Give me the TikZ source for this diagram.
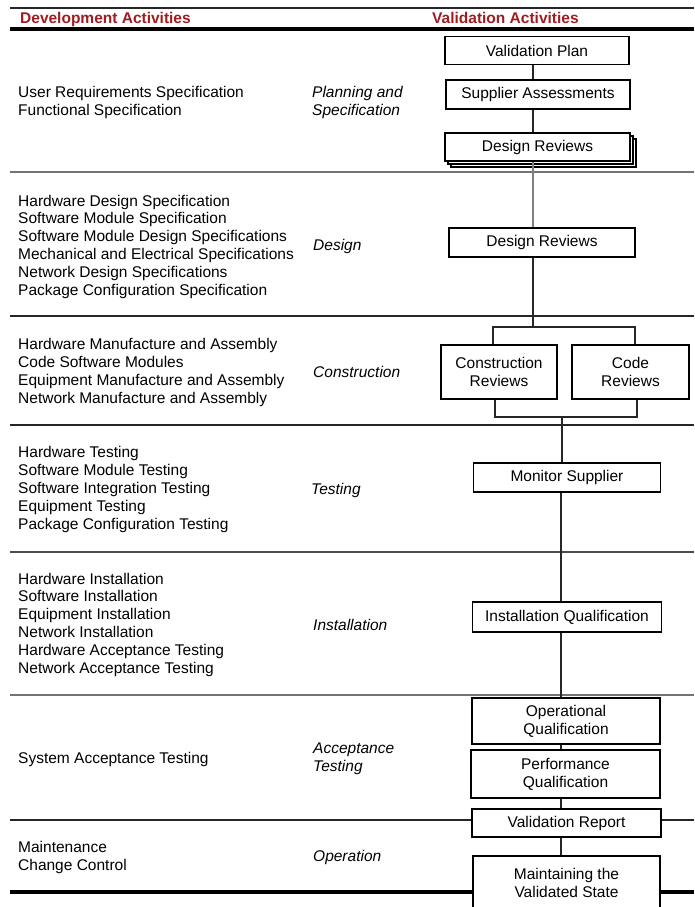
\documentclass[tikz,border=0pt]{standalone}
\usepackage{fontspec}
\setmainfont{Liberation Sans}
\usepackage{xcolor}
\usetikzlibrary{
    shadows
}
\definecolor{headred}{RGB}{160,28,32}

\tikzset{
    txt/.style={font=\fontsize{15.5}{17.8}\selectfont},
    vbox/.style={txt, draw, line width=1.3pt, fill=white, inner sep=0pt, align=center},
    devtext/.style={txt, anchor=west, inner sep=0pt, align=left, yshift=-1.5pt},
    phase/.style={devtext, font=\fontsize{15.5}{17.8}\selectfont\itshape},
    headtext/.style={txt, anchor=base west, inner sep=0pt, text=headred, font=\fontsize{15.5}{17.8}\selectfont\bfseries},
    rule/.style={line width=2pt, black!85},
    greyrule/.style={line width=1.8pt, black!55},
    headrule/.style={line width=3.4pt, black},
    link/.style={line width=1.3pt, black!85}
}

\begin{document}
\begin{tikzpicture}[x=1pt, y=-1pt]
    \useasboundingbox (0,0) rectangle (694,907);
    \clip (0,0) rectangle (694,907);
    % rules between the phases
    \draw[rule] (10,8) -- (694,8);
    \draw[headrule] (10,29) -- (694,29);
    \draw[greyrule] (10,172) -- (694,172);
    \draw[rule] (10,316) -- (694,316);
    \draw[rule] (10,425) -- (694,425);
    \draw[greyrule, black!70] (10,552) -- (694,552);
    \draw[greyrule] (10,695) -- (694,695);
    \draw[rule] (10,820) -- (694,820);
    \draw[headrule] (10,892) -- (694,892);

    \node[headtext] (devhead) at (20,24) {Development Activities};
    \node[headtext] (valhead) at (432,24) {Validation Activities};

    % development activities
    \node[devtext] (dev1) at (18,101) {User Requirements Specification\\Functional Specification};
    \node[devtext] (dev2) at (18,245) {Hardware Design Specification\\Software Module Specification\\Software Module Design Specifications\\Mechanical and Electrical Specifications\\Network Design Specifications\\Package Configuration Specification};
    \node[devtext] (dev3) at (18,371) {Hardware Manufacture and Assembly\\Code Software Modules\\Equipment Manufacture and Assembly\\Network Manufacture and Assembly};
    \node[devtext] (dev4) at (18,488) {Hardware Testing\\Software Module Testing\\Software Integration Testing\\Equipment Testing\\Package Configuration Testing};
    \node[devtext] (dev5) at (18,623) {Hardware Installation\\Software Installation\\Equipment Installation\\Network Installation\\Hardware Acceptance Testing\\Network Acceptance Testing};
    \node[devtext] (dev6) at (18,758) {System Acceptance Testing};
    \node[devtext] (dev7) at (18,856) {Maintenance\\Change Control};

    % phase names
    \node[phase] (ph1) at (312,101) {Planning and\\Specification};
    \node[phase] (ph2) at (313,245) {Design};
    \node[phase] (ph3) at (313,370) {Construction};
    \node[phase] (ph4) at (311,489) {Testing};
    \node[phase] (ph5) at (313,623) {Installation};
    \node[phase] (ph6) at (313,757) {Acceptance\\Testing};
    \node[phase] (ph7) at (313,856) {Operation};

    % validation activities
    \node[vbox, minimum width=184pt, minimum height=28pt] (vp) at (537,50.5) {Validation Plan};
    \node[vbox, minimum width=184pt, minimum height=29pt] (sa) at (538,94.5) {Supplier Assessments};
    \node[vbox, minimum width=185pt, minimum height=28pt,
        double copy shadow={shadow xshift=3pt, shadow yshift=-3pt}] (dr1) at (537.5,147) {Design Reviews};
    \node[vbox, minimum width=186pt, minimum height=29pt] (dr2) at (542,242.5) {Design Reviews};
    \node[vbox, minimum width=116pt, minimum height=54pt] (cr) at (499,372) {Construction\\Reviews};
    \node[vbox, minimum width=117pt, minimum height=54pt] (code) at (630.5,372) {Code\\Reviews};
    \node[vbox, minimum width=187pt, minimum height=29pt] (ms) at (567,477.5) {Monitor Supplier};
    \node[vbox, minimum width=189pt, minimum height=30pt] (iq) at (567,617) {Installation Qualification};
    \node[vbox, minimum width=188pt, minimum height=46pt] (oq) at (566,721) {Operational\\Qualification};
    \node[vbox, minimum width=189pt, minimum height=48pt] (pq) at (565.5,774) {Performance\\Qualification};
    \node[vbox, minimum width=189pt, minimum height=28pt] (vr) at (566.5,823) {Validation Report};
    \node[vbox, minimum width=187pt, minimum height=54pt] (mvs) at (566.5,883) {Maintaining the\\Validated State};

    % connectors
    \coordinate (colA) at (533,0);
    \coordinate (colB) at (561,0);
    \coordinate (split) at (533,327);
    \coordinate (join) at (562,417);
    \draw[link] (vp.south -| colA) -- (sa.north -| colA)
        (sa.south -| colA) -- (dr1.north -| colA);
    \draw[link, black!50] (dr1.south -| colA) -- (dr2.north -| colA);
    \draw[link] (dr2.south -| colA) -- (split);
    \draw[link] ([xshift=-6pt]cr.north) |- (split) -| ([xshift=4.5pt]code.north);
    \draw[link] ([xshift=-4pt]cr.south) |- (join) -| ([xshift=6.5pt]code.south);
    \draw[link] (join) -- (ms.north -| join);
    \draw[link] (ms.south -| colB) -- (iq.north -| colB)
        (iq.south -| colB) -- (oq.north -| colB)
        (oq.south -| colB) -- (pq.north -| colB)
        (pq.south -| colB) -- (vr.north -| colB)
        (vr.south -| colB) -- (mvs.north -| colB);
\end{tikzpicture}
\end{document}
